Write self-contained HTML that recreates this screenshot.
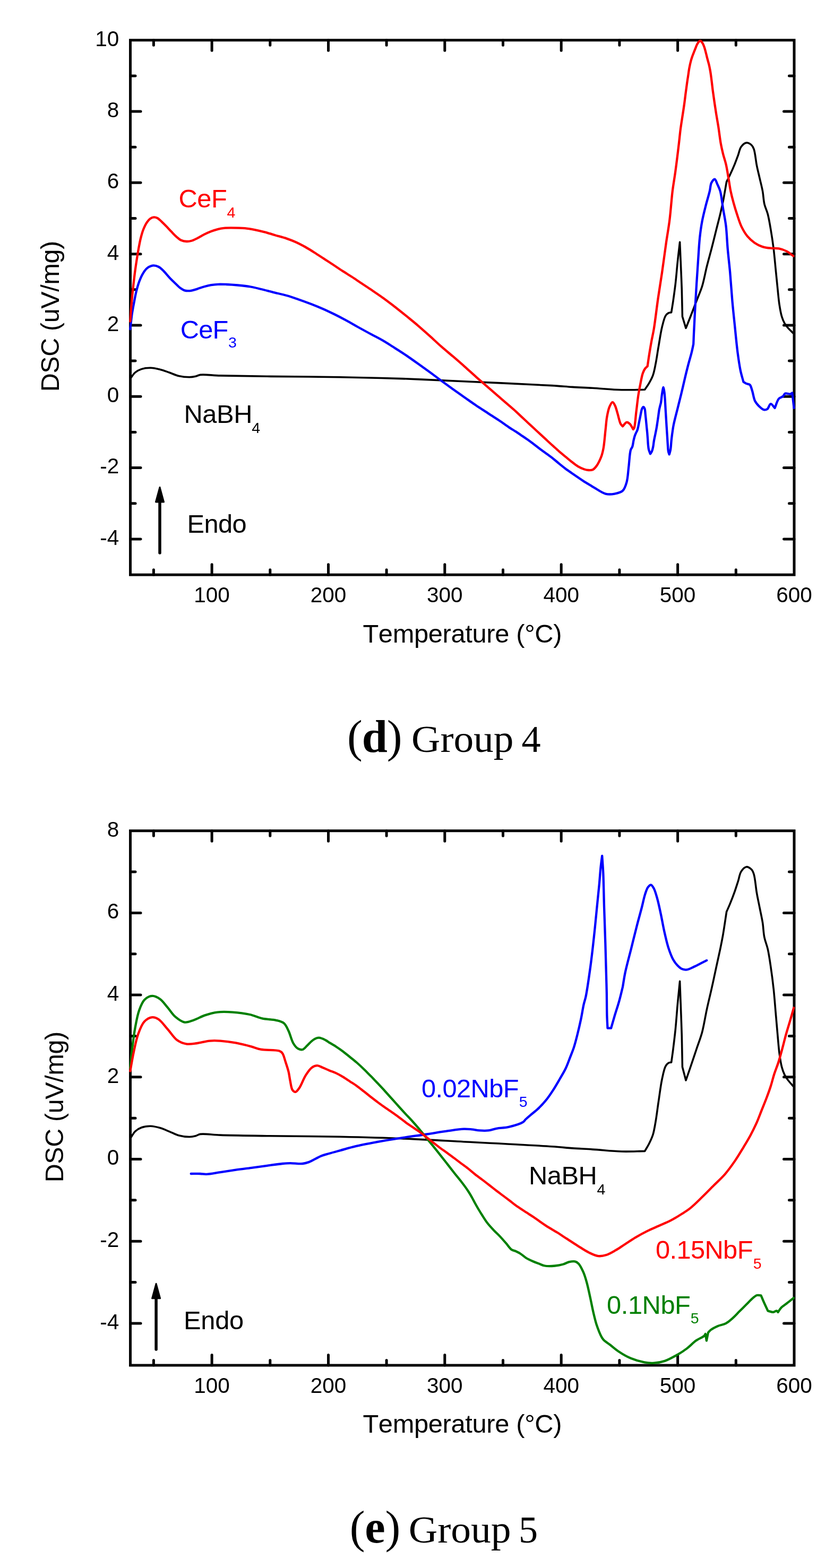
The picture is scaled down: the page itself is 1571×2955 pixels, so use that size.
<!DOCTYPE html>
<html><head><meta charset="utf-8"><title>DSC curves</title>
<style>
html,body{margin:0;padding:0;background:#fff;}
body{width:1571px;height:2955px;overflow:hidden;}
svg{display:block;}
text{font-kerning:none;font-feature-settings:"kern" 0,"liga" 0;font-variant-ligatures:none;}
.tk{font-family:'Liberation Sans', Arial, sans-serif;font-size:40.5px;fill:#000;}
.lb{font-family:'Liberation Sans', Arial, sans-serif;}
.cap{font-family:'Liberation Serif', 'Times New Roman', serif;font-size:70px;fill:#000;}
</style></head>
<body>
<svg width="1571" height="2955" viewBox="0 0 1571 2955">
<rect width="1571" height="2955" fill="#fff"/>
<path d="M289.4 1083.2 V1073.7 M289.4 75.7 V85.2 M399.1 1083.2 V1063.7 M399.1 75.7 V95.2 M508.8 1083.2 V1073.7 M508.8 75.7 V85.2 M618.5 1083.2 V1063.7 M618.5 75.7 V95.2 M728.1 1083.2 V1073.7 M728.1 75.7 V85.2 M837.8 1083.2 V1063.7 M837.8 75.7 V95.2 M947.5 1083.2 V1073.7 M947.5 75.7 V85.2 M1057.2 1083.2 V1063.7 M1057.2 75.7 V95.2 M1166.9 1083.2 V1073.7 M1166.9 75.7 V85.2 M1276.6 1083.2 V1063.7 M1276.6 75.7 V95.2 M1386.3 1083.2 V1073.7 M1386.3 75.7 V85.2 M245.5 1015.9 H265.0 M1496.0 1015.9 H1476.5 M245.5 948.8 H255.0 M1496.0 948.8 H1486.5 M245.5 881.6 H265.0 M1496.0 881.6 H1476.5 M245.5 814.5 H255.0 M1496.0 814.5 H1486.5 M245.5 747.3 H265.0 M1496.0 747.3 H1476.5 M245.5 680.1 H255.0 M1496.0 680.1 H1486.5 M245.5 613.0 H265.0 M1496.0 613.0 H1476.5 M245.5 545.8 H255.0 M1496.0 545.8 H1486.5 M245.5 478.7 H265.0 M1496.0 478.7 H1476.5 M245.5 411.5 H255.0 M1496.0 411.5 H1486.5 M245.5 344.3 H265.0 M1496.0 344.3 H1476.5 M245.5 277.2 H255.0 M1496.0 277.2 H1486.5 M245.5 210.0 H265.0 M1496.0 210.0 H1476.5 M245.5 142.9 H255.0 M1496.0 142.9 H1486.5" stroke="#000" stroke-width="5" stroke-linecap="round" fill="none"/>
<rect x="245.5" y="75.7" width="1250.5" height="1007.5" fill="none" stroke="#000" stroke-width="5"/>
<text x="399.1" y="1135.2" text-anchor="middle" class="tk">100</text>
<text x="618.5" y="1135.2" text-anchor="middle" class="tk">200</text>
<text x="837.8" y="1135.2" text-anchor="middle" class="tk">300</text>
<text x="1057.2" y="1135.2" text-anchor="middle" class="tk">400</text>
<text x="1276.6" y="1135.2" text-anchor="middle" class="tk">500</text>
<text x="1496.0" y="1135.2" text-anchor="middle" class="tk">600</text>
<text x="224.2" y="1026.7" text-anchor="end" class="tk">-4</text>
<text x="224.2" y="892.4" text-anchor="end" class="tk">-2</text>
<text x="224.2" y="758.1" text-anchor="end" class="tk">0</text>
<text x="224.2" y="623.8" text-anchor="end" class="tk">2</text>
<text x="224.2" y="489.5" text-anchor="end" class="tk">4</text>
<text x="224.2" y="355.1" text-anchor="end" class="tk">6</text>
<text x="224.2" y="220.8" text-anchor="end" class="tk">8</text>
<text x="224.2" y="86.5" text-anchor="end" class="tk">10</text>
<path d="M245.3 713.7 C248.4 709.8 251.0 705.1 254.6 702.0 C258.0 699.1 261.9 697.1 266.3 695.6 C271.4 693.9 278.0 693.2 283.8 693.3 C289.6 693.4 295.5 694.8 301.3 696.2 C307.2 697.7 313.0 700.0 318.8 702.0 C324.7 704.1 330.2 707.0 336.4 708.5 C342.9 710.0 350.9 710.8 356.8 710.8 C361.2 710.8 364.9 710.1 368.5 709.3 C371.7 708.6 373.2 707.0 377.2 706.4 C385.3 705.2 399.9 707.5 415.2 707.9 C438.4 708.5 470.3 708.9 502.8 709.3 C543.4 709.8 596.1 709.9 640.0 710.7 C680.5 711.4 717.9 712.3 756.8 713.6 C795.7 715.0 831.2 716.9 873.6 718.8 C924.2 721.1 1004.1 724.4 1040.0 726.6 C1057.2 727.6 1065.3 728.6 1078.0 729.4 C1090.6 730.2 1102.1 730.5 1115.9 731.3 C1132.6 732.2 1153.7 734.3 1171.0 734.7 C1186.4 735.1 1200.1 734.4 1214.6 734.2 C1217.1 730.4 1219.8 727.0 1222.2 722.8 C1224.9 718.2 1227.7 713.3 1229.8 707.6 C1232.2 701.1 1233.4 693.8 1235.0 685.7 C1237.0 675.9 1238.5 664.1 1240.5 652.8 C1242.6 640.9 1244.5 626.6 1247.1 616.2 C1249.1 608.2 1250.9 599.9 1253.6 595.4 C1255.2 592.7 1257.1 591.0 1259.1 589.9 C1260.8 589.0 1262.8 589.2 1264.6 588.8 C1265.7 581.9 1266.8 575.7 1267.9 568.0 C1269.3 558.3 1270.9 546.9 1272.3 535.2 C1273.9 521.7 1275.1 505.2 1276.6 491.4 C1277.9 479.0 1279.3 468.0 1280.6 456.3 C1281.1 468.0 1281.6 478.4 1282.1 491.4 C1282.8 507.6 1283.7 528.2 1284.3 546.1 C1284.8 563.2 1285.0 579.7 1285.4 596.5 L1292.0 618.4 C1294.9 611.1 1297.7 604.3 1300.7 596.5 C1304.2 587.6 1308.0 577.5 1311.7 568.0 C1315.3 558.5 1319.4 549.7 1322.6 539.5 C1326.1 528.0 1328.4 514.3 1331.4 502.3 C1334.2 491.0 1337.2 480.6 1340.1 469.5 C1343.1 458.0 1346.1 445.7 1348.9 434.4 C1351.5 423.8 1354.3 413.4 1356.6 403.8 C1358.6 395.3 1360.2 388.6 1362.0 379.7 C1364.2 368.7 1366.4 354.9 1368.6 342.5 C1370.8 338.1 1372.9 334.2 1375.2 329.3 C1378.0 323.4 1381.3 316.0 1383.9 309.6 C1386.3 303.6 1388.4 297.7 1390.5 292.1 C1392.4 286.8 1393.2 280.7 1396.0 276.8 C1398.5 273.3 1402.4 269.5 1405.8 269.1 C1409.0 268.7 1413.3 271.3 1415.7 273.5 C1417.9 275.5 1418.8 277.6 1420.1 281.2 C1422.5 287.9 1423.6 302.2 1425.5 311.8 C1427.2 320.3 1429.2 327.9 1431.0 335.9 C1432.8 343.9 1435.0 351.9 1436.5 360.0 C1438.0 368.0 1438.1 376.5 1439.8 384.1 C1441.4 391.1 1444.4 396.6 1446.3 403.8 C1448.5 412.4 1450.1 422.1 1451.8 432.3 C1453.8 443.9 1455.7 456.6 1457.3 469.5 C1459.0 483.5 1460.3 499.8 1461.7 513.3 C1462.9 525.0 1463.9 535.6 1465.0 546.1 C1466.0 555.9 1466.8 565.8 1468.2 574.6 C1469.4 582.4 1470.7 590.2 1472.6 596.5 C1474.1 601.5 1475.9 605.8 1478.1 609.6 C1480.0 613.0 1482.2 615.5 1484.7 618.4 C1487.5 621.7 1491.2 624.9 1494.5 628.2" stroke="#000" stroke-width="3.6" fill="none" stroke-linejoin="round" stroke-linecap="round"/>
<path d="M245.3 620.3 C246.4 610.9 247.3 600.8 248.6 592.0 C249.7 584.2 251.1 577.3 252.5 570.0 C253.9 562.6 255.3 554.6 257.1 547.7 C258.7 541.6 260.3 536.0 262.3 530.6 C264.2 525.5 266.3 520.4 268.9 516.1 C271.2 512.2 273.5 508.2 276.8 505.6 C280.1 503.0 284.7 500.7 288.6 500.4 C292.1 500.1 295.9 501.3 299.1 503.0 C302.5 504.8 305.2 507.9 308.3 510.9 C311.8 514.3 315.2 518.9 318.8 522.7 C322.2 526.4 325.8 529.8 329.3 533.2 C332.8 536.6 336.5 540.6 339.9 543.1 C342.6 545.0 345.2 546.6 347.7 547.4 C349.8 548.1 351.8 548.2 354.0 548.2 C356.2 548.2 358.4 548.1 360.9 547.6 C364.1 547.0 367.7 545.7 371.4 544.6 C375.5 543.3 380.1 541.4 384.5 540.2 C388.9 539.0 393.3 537.9 397.7 537.2 C402.1 536.5 406.2 536.0 410.8 535.8 C415.7 535.6 420.7 535.8 426.3 536.0 C433.0 536.3 440.7 536.8 448.2 537.5 C456.1 538.3 464.7 539.2 472.3 540.5 C479.2 541.7 485.3 543.4 492.0 545.0 C499.1 546.7 506.3 548.7 513.9 550.6 C522.2 552.7 531.8 554.6 540.1 557.0 C547.8 559.2 554.5 561.6 562.0 564.2 C569.9 566.9 578.3 570.0 586.1 573.0 C593.6 575.9 600.7 578.8 608.0 582.0 C615.3 585.2 622.6 588.7 629.9 592.3 C637.2 595.9 644.5 599.7 651.8 603.6 C659.1 607.6 666.1 611.7 673.7 616.0 C682.0 620.6 691.6 625.9 700.0 630.4 C707.6 634.5 714.7 638.0 721.9 642.2 C729.3 646.5 736.5 651.3 743.8 655.9 C751.1 660.6 758.4 665.2 765.7 670.1 C773.0 675.1 780.3 680.3 787.6 685.5 C794.9 690.7 802.2 695.9 809.5 701.2 C816.8 706.6 824.1 712.2 831.4 717.6 C838.7 722.9 846.0 728.2 853.3 733.4 C860.6 738.6 867.9 743.8 875.2 749.0 C882.5 754.1 889.8 759.3 897.1 764.3 C904.4 769.2 911.7 773.8 919.0 778.6 C926.3 783.3 933.9 788.1 940.9 792.8 C947.5 797.3 954.4 802.4 960.0 806.1 C964.3 809.0 967.8 810.9 971.7 813.4 C975.6 816.0 979.5 818.7 983.4 821.4 C987.3 824.0 991.2 826.6 995.0 829.3 C998.9 832.1 1002.8 835.1 1006.7 838.0 C1010.6 841.0 1014.5 844.1 1018.4 847.0 C1022.3 849.9 1026.2 852.7 1030.1 855.6 C1034.0 858.5 1038.0 861.2 1041.8 864.2 C1045.7 867.3 1049.5 870.7 1053.4 873.9 C1057.3 877.1 1061.2 880.3 1065.1 883.2 C1069.0 886.1 1072.9 888.7 1076.8 891.4 C1080.7 894.1 1084.6 896.9 1088.5 899.6 C1092.4 902.3 1096.2 904.9 1100.1 907.4 C1104.0 909.8 1108.2 912.3 1111.8 914.4 C1114.8 916.2 1116.6 917.5 1120.0 919.4 C1125.3 922.4 1133.8 928.9 1140.6 930.6 C1146.4 932.1 1152.3 931.6 1157.7 930.6 C1163.0 929.6 1169.1 928.4 1172.9 924.9 C1176.8 921.3 1178.6 915.1 1180.4 908.8 C1182.7 900.8 1183.0 890.1 1184.2 880.3 C1185.5 869.9 1186.0 854.5 1188.0 848.0 C1188.9 845.0 1190.3 844.3 1191.2 841.8 C1192.3 838.6 1192.7 833.6 1193.5 830.0 C1194.2 826.9 1194.9 823.9 1195.8 821.3 C1196.5 819.1 1197.4 817.3 1198.2 815.5 C1198.9 813.8 1199.9 812.6 1200.5 810.8 C1201.3 808.7 1201.7 806.1 1202.3 803.8 C1202.9 800.9 1203.4 797.9 1204.0 795.0 C1204.6 792.1 1205.2 789.2 1205.8 786.3 C1206.4 783.4 1206.9 780.3 1207.5 777.5 C1208.1 775.0 1208.4 772.4 1209.3 770.5 C1210.0 769.1 1211.0 767.0 1211.9 767.0 C1212.8 767.0 1213.9 768.9 1214.5 770.5 C1215.4 772.9 1215.3 777.0 1215.7 780.4 C1216.1 784.1 1216.5 788.2 1216.9 792.1 C1217.3 796.0 1217.6 799.9 1218.0 803.8 C1218.4 807.7 1218.8 811.6 1219.2 815.5 C1219.5 819.4 1219.8 823.3 1220.1 827.2 C1220.4 831.1 1220.5 835.2 1220.9 838.8 C1221.2 841.9 1221.4 844.8 1222.1 847.6 C1222.8 850.3 1224.0 852.8 1225.0 855.4 C1226.0 853.8 1227.2 852.4 1228.0 850.5 C1229.0 848.1 1229.7 844.9 1230.3 841.8 C1231.0 838.2 1231.3 833.9 1232.0 830.0 C1232.7 826.1 1233.6 822.3 1234.4 818.4 C1235.2 814.5 1236.0 810.6 1236.7 806.7 C1237.4 802.8 1237.9 798.9 1238.5 795.0 C1239.1 791.1 1239.6 787.3 1240.2 783.4 C1240.7 779.6 1241.2 775.3 1241.8 772.0 C1242.3 769.4 1242.9 767.3 1243.4 765.0 C1243.9 762.9 1244.5 761.3 1245.0 758.8 C1245.7 755.0 1246.2 748.5 1246.8 744.2 C1247.3 740.8 1247.8 737.6 1248.3 735.0 C1248.7 733.1 1249.1 730.0 1249.5 730.0 C1249.9 730.0 1250.4 733.1 1250.8 735.0 C1251.3 737.6 1251.7 740.8 1252.0 744.2 C1252.4 748.5 1252.7 753.8 1253.0 758.8 C1253.3 764.1 1253.6 769.7 1253.9 775.0 C1254.2 780.1 1254.5 785.2 1254.8 790.0 C1255.1 794.5 1255.3 798.5 1255.6 803.0 C1255.9 807.9 1256.3 813.1 1256.6 818.4 C1257.0 824.0 1257.3 830.3 1257.7 835.9 C1258.1 841.0 1258.2 846.7 1258.9 850.5 C1259.4 852.9 1260.1 854.4 1260.7 856.4 C1261.5 853.5 1262.4 851.1 1263.0 847.6 C1263.9 842.8 1264.1 835.6 1264.7 830.0 C1265.3 824.9 1265.8 820.3 1266.5 815.5 C1267.2 810.6 1267.6 806.7 1268.8 800.9 C1270.5 792.3 1274.1 779.0 1276.6 768.9 C1278.9 759.7 1281.0 751.5 1283.2 742.6 C1285.4 733.3 1287.6 723.5 1289.8 714.2 C1291.9 705.3 1294.1 696.5 1296.3 687.9 C1298.4 679.7 1301.2 670.9 1302.9 663.8 C1304.3 658.1 1305.1 653.6 1306.2 648.5 C1306.6 639.9 1306.8 632.5 1307.3 622.8 C1307.9 610.1 1308.7 593.6 1309.5 579.0 C1310.3 564.4 1311.2 549.8 1312.1 535.2 C1313.0 520.6 1314.0 506.0 1315.0 491.4 C1316.0 476.8 1316.8 460.9 1318.2 447.6 C1319.4 436.4 1320.7 426.9 1322.6 416.9 C1324.4 407.2 1326.8 398.0 1329.2 388.5 C1331.6 379.0 1335.0 368.1 1336.9 360.0 C1338.3 354.1 1338.1 348.5 1340.1 344.6 C1341.6 341.6 1344.5 337.4 1346.3 337.6 C1348.2 337.8 1349.5 343.4 1351.1 346.8 C1353.0 350.8 1355.0 354.5 1356.6 360.0 C1359.0 368.4 1360.2 381.9 1362.0 392.8 C1363.8 403.8 1366.1 413.9 1367.5 425.7 C1369.1 439.2 1369.5 454.9 1370.8 469.5 C1372.1 484.1 1373.8 497.9 1375.2 513.3 C1376.7 530.5 1378.0 550.8 1379.5 568.0 C1380.9 583.4 1382.3 596.6 1383.9 611.8 C1385.6 628.4 1387.4 648.2 1389.4 663.8 C1391.1 676.6 1392.8 688.7 1394.9 698.8 C1396.6 706.7 1398.6 712.7 1400.4 719.6 C1402.2 720.7 1403.9 722.0 1405.8 722.9 C1407.8 723.8 1410.7 723.5 1412.4 725.1 C1414.7 727.2 1415.4 731.8 1416.8 736.0 C1418.7 741.6 1419.6 750.6 1422.2 755.8 C1424.3 759.9 1427.0 762.8 1429.9 765.6 C1432.6 768.2 1435.8 771.5 1438.7 772.2 C1440.9 772.7 1443.3 772.4 1445.2 771.1 C1447.8 769.4 1449.4 761.4 1451.8 761.2 C1454.1 761.0 1456.9 766.3 1459.5 768.9 C1462.0 763.1 1463.8 755.0 1467.1 751.4 C1469.3 748.9 1472.7 748.8 1474.8 747.0 C1476.7 745.4 1477.1 742.4 1479.2 741.5 C1481.6 740.5 1486.7 743.2 1489.0 742.6 C1490.5 742.2 1491.2 741.1 1492.3 740.4 L1495.6 768.9" stroke="#0000ff" stroke-width="4.3" fill="none" stroke-linejoin="round" stroke-linecap="round"/>
<path d="M245.3 605.7 C246.2 593.8 246.7 582.8 247.9 570.0 C249.2 555.0 251.4 535.5 253.1 521.4 C254.4 510.5 255.7 501.6 257.1 492.5 C258.4 484.2 259.6 476.3 261.0 468.8 C262.3 461.9 263.4 455.4 265.0 449.1 C266.5 443.2 268.1 437.2 270.2 432.0 C272.1 427.3 274.3 422.5 276.8 418.9 C278.8 416.0 281.0 413.3 283.4 411.7 C285.4 410.4 287.7 409.5 289.9 409.4 C292.1 409.3 294.3 409.9 296.5 411.0 C299.2 412.3 301.7 415.2 304.4 417.6 C307.4 420.4 310.6 423.7 313.6 426.8 C316.7 430.0 319.7 433.4 322.8 436.6 C325.8 439.7 328.8 443.0 332.0 445.8 C335.0 448.4 337.8 451.3 341.2 452.8 C344.4 454.3 348.3 454.9 351.7 455.0 C354.9 455.1 357.8 454.6 360.9 453.7 C364.4 452.7 367.7 450.9 371.4 449.1 C375.6 447.0 380.1 444.1 384.5 441.9 C388.8 439.7 393.3 437.7 397.7 436.0 C402.0 434.3 406.6 432.9 410.8 431.8 C414.6 430.8 418.1 430.2 422.0 429.8 C426.2 429.4 429.9 429.4 435.0 429.4 C442.2 429.4 453.4 429.5 461.3 430.2 C467.7 430.8 472.8 431.7 478.8 432.8 C485.2 434.0 492.0 435.6 498.5 437.3 C505.1 439.0 511.5 441.2 518.2 443.2 C525.3 445.3 533.2 447.3 540.1 449.6 C546.3 451.7 551.9 453.9 557.7 456.5 C563.6 459.2 569.4 462.3 575.2 465.5 C581.1 468.8 586.9 472.5 592.7 476.2 C598.6 479.9 604.4 483.8 610.2 487.6 C616.0 491.4 621.9 495.2 627.7 499.0 C633.5 502.8 639.3 506.8 645.2 510.6 C651.0 514.4 657.0 518.0 662.8 521.8 C668.7 525.6 674.3 529.5 680.3 533.5 C686.7 537.7 693.3 542.0 700.0 546.6 C707.1 551.4 714.7 556.5 721.9 561.7 C729.3 567.0 736.5 572.6 743.8 578.2 C751.1 583.9 758.4 589.8 765.7 595.7 C773.0 601.7 780.4 607.6 787.6 613.8 C795.0 620.1 802.2 626.7 809.5 633.2 C816.8 639.8 824.0 646.7 831.4 653.2 C838.6 659.6 846.0 665.5 853.3 671.7 C860.6 678.0 867.9 684.3 875.2 690.8 C882.5 697.3 889.8 704.1 897.1 710.6 C904.4 717.0 911.7 723.3 919.0 729.6 C926.3 735.9 933.9 742.5 940.9 748.6 C947.5 754.3 954.4 760.3 960.0 765.2 C964.4 769.0 967.8 771.9 971.7 775.4 C975.6 779.0 979.5 782.8 983.4 786.4 C987.3 790.0 991.1 793.6 995.0 797.2 C998.9 800.8 1002.8 804.4 1006.7 808.0 C1010.6 811.6 1014.5 815.3 1018.4 818.9 C1022.3 822.5 1026.2 826.1 1030.1 829.7 C1034.0 833.3 1037.9 836.9 1041.8 840.4 C1045.7 843.9 1049.5 847.4 1053.4 850.8 C1057.3 854.1 1061.2 857.4 1065.1 860.6 C1069.0 863.8 1072.9 867.1 1076.8 870.2 C1080.7 873.2 1084.5 876.4 1088.5 878.8 C1092.3 881.0 1096.5 883.0 1100.1 884.2 C1103.0 885.2 1105.6 885.8 1108.3 886.0 C1111.0 886.2 1114.0 886.3 1116.5 885.2 C1119.2 884.0 1121.2 881.5 1123.5 878.4 C1126.8 873.8 1130.7 865.5 1133.0 859.4 C1134.9 854.2 1135.7 850.3 1136.8 844.2 C1138.4 835.1 1139.4 820.6 1140.6 810.1 C1141.6 801.2 1142.0 793.1 1143.4 785.4 C1144.6 778.6 1146.0 771.3 1148.2 766.4 C1149.8 762.8 1152.1 757.9 1153.9 757.9 C1155.5 757.9 1157.2 761.7 1158.6 764.5 C1160.5 768.4 1161.8 774.3 1163.4 779.7 C1165.2 785.7 1166.8 794.6 1169.0 798.7 C1170.2 801.0 1171.6 801.8 1172.9 803.4 C1175.4 800.9 1177.9 796.2 1180.4 795.8 C1182.3 795.5 1184.3 797.1 1186.1 798.7 C1188.6 800.9 1190.6 805.6 1192.8 809.1 C1193.4 808.2 1194.1 807.8 1194.7 806.3 C1196.4 801.7 1197.2 786.0 1198.5 775.9 C1199.8 765.8 1200.9 754.7 1202.3 745.5 C1203.5 737.9 1204.7 731.7 1206.1 724.7 C1207.5 717.6 1208.9 708.7 1210.9 703.2 C1212.2 699.5 1213.6 696.7 1215.3 694.4 C1216.6 692.6 1218.2 691.5 1219.7 690.1 C1220.4 685.0 1221.0 680.8 1221.9 674.7 C1223.3 665.8 1225.6 651.7 1227.4 641.9 C1228.9 633.9 1230.2 629.0 1231.7 620.0 C1234.1 605.6 1236.8 581.9 1239.4 563.6 C1241.9 546.3 1244.6 530.4 1247.1 513.3 C1249.7 495.4 1252.2 475.7 1254.7 458.5 C1256.9 443.1 1259.4 430.1 1261.3 414.7 C1263.5 397.5 1264.8 376.5 1266.8 360.0 C1268.5 346.4 1270.5 336.3 1272.3 322.8 C1274.5 306.7 1277.2 284.6 1278.9 270.0 C1280.1 259.6 1280.8 251.8 1281.9 243.2 C1283.0 235.2 1284.2 227.7 1285.4 219.9 C1286.6 212.1 1287.8 204.4 1288.9 196.6 C1290.0 188.8 1291.0 179.8 1291.9 173.3 C1292.5 168.7 1293.0 165.4 1293.5 161.5 C1294.0 157.6 1294.6 153.4 1295.1 150.0 C1295.5 147.4 1295.8 145.8 1296.2 143.0 C1296.8 139.0 1297.5 133.3 1298.4 128.4 C1299.3 123.5 1300.6 117.8 1301.7 113.8 C1302.5 110.9 1303.2 108.9 1304.0 106.5 C1304.9 104.1 1305.9 101.6 1306.8 99.2 C1307.8 96.8 1308.7 94.3 1309.7 91.9 C1310.7 89.5 1311.5 86.8 1312.6 84.6 C1313.7 82.5 1315.0 80.1 1316.3 78.8 C1317.2 77.9 1318.2 76.9 1319.2 77.0 C1320.5 77.1 1322.1 79.3 1323.2 81.0 C1324.6 83.0 1325.5 85.5 1326.5 88.2 C1327.7 91.4 1328.6 95.5 1329.6 99.2 C1330.6 102.8 1331.4 106.5 1332.3 110.1 C1333.3 113.8 1334.4 117.4 1335.3 121.1 C1336.2 124.7 1336.9 128.3 1337.6 132.0 C1338.3 135.6 1338.8 139.3 1339.3 143.0 C1339.8 146.6 1340.2 149.9 1340.7 153.9 C1341.3 158.7 1341.9 164.3 1342.6 170.0 C1343.5 176.6 1344.6 184.2 1345.6 191.4 C1346.7 198.7 1347.7 205.7 1348.9 213.3 C1350.2 221.6 1351.9 230.4 1353.3 239.5 C1354.8 249.3 1356.1 261.1 1357.7 270.2 C1359.0 277.5 1360.4 283.4 1362.0 289.9 C1363.6 296.5 1365.8 302.3 1367.5 309.6 C1369.6 318.7 1371.4 331.2 1373.0 340.3 C1374.3 347.6 1374.9 353.3 1376.3 360.0 C1377.8 367.1 1379.7 374.6 1381.7 381.9 C1383.7 389.2 1385.8 396.4 1388.3 403.8 C1390.9 411.7 1393.6 420.7 1397.1 427.9 C1400.3 434.4 1403.8 440.4 1408.0 445.4 C1411.9 450.1 1416.4 454.1 1421.2 457.4 C1425.9 460.6 1431.3 463.4 1436.5 465.1 C1441.5 466.7 1446.7 467.2 1451.8 467.7 C1456.9 468.2 1462.1 467.4 1467.1 468.4 C1472.3 469.4 1477.8 471.4 1482.5 473.9 C1486.9 476.2 1490.5 479.7 1494.5 482.6" stroke="#ff0000" stroke-width="4.3" fill="none" stroke-linejoin="round" stroke-linecap="round"/>
<text x="336.52" y="390.90" fill="#ff0000" letter-spacing="-0.479"><tspan font-family="'Liberation Sans', Arial, sans-serif" font-size="48.80">CeF</tspan></text><text x="427.55" y="409.70" fill="#ff0000" letter-spacing="0.000"><tspan font-family="'Liberation Sans', Arial, sans-serif" font-size="28.50">4</tspan></text>
<text x="339.72" y="637.80" fill="#0000ff" letter-spacing="-0.829"><tspan font-family="'Liberation Sans', Arial, sans-serif" font-size="48.80">CeF</tspan></text><text x="430.11" y="655.00" fill="#0000ff" letter-spacing="0.000"><tspan font-family="'Liberation Sans', Arial, sans-serif" font-size="28.50">3</tspan></text>
<text x="346.60" y="797.40" fill="#000" letter-spacing="-0.464"><tspan font-family="'Liberation Sans', Arial, sans-serif" font-size="48.80">NaBH</tspan></text><text x="474.35" y="815.50" fill="#000" letter-spacing="0.000"><tspan font-family="'Liberation Sans', Arial, sans-serif" font-size="28.50">4</tspan></text>
<text x="352.40" y="1004.10" fill="#000" letter-spacing="-0.539"><tspan font-family="'Liberation Sans', Arial, sans-serif" font-size="48.80">Endo</tspan></text>
<path d="M301.0 1042.1 V944.9" stroke="#000" stroke-width="5.5" stroke-linecap="round"/><path d="M301.0 918.4 L293.5 945.9 L308.5 945.9 Z" fill="#000" stroke="#000" stroke-width="3" stroke-linejoin="round"/>
<text transform="translate(110.90 734.40) rotate(-90)" x="-3.98" y="0" letter-spacing="-0.376" font-family="'Liberation Sans', Arial, sans-serif" font-size="48.50">DSC (uV/mg)</text>
<text x="683.40" y="1211.00" fill="#000" letter-spacing="-0.337"><tspan font-family="'Liberation Sans', Arial, sans-serif" font-size="48.80">Temperature (°C)</tspan></text>
<text x="654.10" y="1416.60" fill="#000" letter-spacing="-1.107"><tspan font-family="'Liberation Serif', 'Times New Roman', serif" font-size="86.50">(</tspan><tspan font-family="'Liberation Serif', 'Times New Roman', serif" font-size="86.50" font-weight="bold">d</tspan><tspan font-family="'Liberation Serif', 'Times New Roman', serif" font-size="86.50">)</tspan></text><text transform="translate(775.01 1416.60) scale(1.0431 1)" x="0" y="0" fill="#000"><tspan font-family="'Liberation Serif', 'Times New Roman', serif" font-size="72.20">Group</tspan></text><text x="982.49" y="1416.60" fill="#000" letter-spacing="0.000"><tspan font-family="'Liberation Serif', 'Times New Roman', serif" font-size="72.20">4</tspan></text>
<path d="M289.4 2573.0 V2563.5 M289.4 1565.7 V1575.2 M399.1 2573.0 V2553.5 M399.1 1565.7 V1585.2 M508.8 2573.0 V2563.5 M508.8 1565.7 V1575.2 M618.5 2573.0 V2553.5 M618.5 1565.7 V1585.2 M728.1 2573.0 V2563.5 M728.1 1565.7 V1575.2 M837.8 2573.0 V2553.5 M837.8 1565.7 V1585.2 M947.5 2573.0 V2563.5 M947.5 1565.7 V1575.2 M1057.2 2573.0 V2553.5 M1057.2 1565.7 V1585.2 M1166.9 2573.0 V2563.5 M1166.9 1565.7 V1575.2 M1276.6 2573.0 V2553.5 M1276.6 1565.7 V1585.2 M1386.3 2573.0 V2563.5 M1386.3 1565.7 V1575.2 M245.5 2493.9 H265.0 M1496.0 2493.9 H1476.5 M245.5 2416.6 H255.0 M1496.0 2416.6 H1486.5 M245.5 2339.2 H265.0 M1496.0 2339.2 H1476.5 M245.5 2261.8 H255.0 M1496.0 2261.8 H1486.5 M245.5 2184.5 H265.0 M1496.0 2184.5 H1476.5 M245.5 2107.2 H255.0 M1496.0 2107.2 H1486.5 M245.5 2029.8 H265.0 M1496.0 2029.8 H1476.5 M245.5 1952.5 H255.0 M1496.0 1952.5 H1486.5 M245.5 1875.1 H265.0 M1496.0 1875.1 H1476.5 M245.5 1797.8 H255.0 M1496.0 1797.8 H1486.5 M245.5 1720.4 H265.0 M1496.0 1720.4 H1476.5 M245.5 1643.1 H255.0 M1496.0 1643.1 H1486.5" stroke="#000" stroke-width="5" stroke-linecap="round" fill="none"/>
<rect x="245.5" y="1565.7" width="1250.5" height="1007.3" fill="none" stroke="#000" stroke-width="5"/>
<text x="399.1" y="2625.0" text-anchor="middle" class="tk">100</text>
<text x="618.5" y="2625.0" text-anchor="middle" class="tk">200</text>
<text x="837.8" y="2625.0" text-anchor="middle" class="tk">300</text>
<text x="1057.2" y="2625.0" text-anchor="middle" class="tk">400</text>
<text x="1276.6" y="2625.0" text-anchor="middle" class="tk">500</text>
<text x="1496.0" y="2625.0" text-anchor="middle" class="tk">600</text>
<text x="224.2" y="2504.7" text-anchor="end" class="tk">-4</text>
<text x="224.2" y="2350.0" text-anchor="end" class="tk">-2</text>
<text x="224.2" y="2195.3" text-anchor="end" class="tk">0</text>
<text x="224.2" y="2040.6" text-anchor="end" class="tk">2</text>
<text x="224.2" y="1885.9" text-anchor="end" class="tk">4</text>
<text x="224.2" y="1731.2" text-anchor="end" class="tk">6</text>
<text x="224.2" y="1576.5" text-anchor="end" class="tk">8</text>
<path d="M245.3 2145.8 C248.4 2141.3 250.9 2135.9 254.6 2132.3 C258.0 2129.1 261.8 2126.6 266.3 2125.0 C271.4 2123.1 278.0 2122.2 283.8 2122.3 C289.6 2122.4 295.5 2124.0 301.3 2125.6 C307.2 2127.3 313.0 2130.0 318.8 2132.3 C324.7 2134.7 330.2 2138.1 336.4 2139.8 C342.8 2141.6 350.9 2142.5 356.8 2142.5 C361.2 2142.4 364.9 2141.7 368.5 2140.7 C371.7 2139.9 373.2 2138.0 377.2 2137.4 C385.3 2136.1 399.9 2138.6 415.2 2139.1 C438.4 2139.9 470.3 2140.2 502.8 2140.7 C543.4 2141.3 596.1 2141.5 640.0 2142.3 C680.5 2143.2 717.9 2144.1 756.8 2145.7 C795.7 2147.2 831.2 2149.4 873.6 2151.7 C924.2 2154.3 1004.1 2158.2 1040.0 2160.7 C1057.2 2161.8 1065.3 2163.0 1078.0 2163.9 C1090.6 2164.8 1102.1 2165.2 1115.9 2166.1 C1132.6 2167.1 1153.7 2169.5 1171.0 2170.0 C1186.4 2170.4 1200.1 2169.6 1214.6 2169.4 C1217.1 2165.0 1219.8 2161.0 1222.2 2156.3 C1224.9 2150.9 1227.7 2145.3 1229.8 2138.8 C1232.2 2131.2 1233.4 2122.8 1235.0 2113.6 C1237.0 2102.2 1238.5 2088.6 1240.5 2075.7 C1242.6 2062.0 1244.5 2045.5 1247.1 2033.5 C1249.1 2024.3 1250.8 2014.8 1253.6 2009.6 C1255.2 2006.5 1257.0 2004.5 1259.1 2003.2 C1260.8 2002.2 1262.8 2002.4 1264.6 2002.0 C1265.7 1994.0 1266.8 1986.9 1267.9 1978.0 C1269.3 1966.8 1270.9 1953.7 1272.3 1940.2 C1273.9 1924.6 1275.1 1905.7 1276.6 1889.8 C1277.9 1875.5 1279.3 1862.8 1280.6 1849.3 C1281.1 1862.8 1281.6 1874.8 1282.1 1889.8 C1282.8 1908.5 1283.7 1932.2 1284.3 1952.8 C1284.8 1972.5 1285.0 1991.5 1285.4 2010.8 L1292.0 2036.0 C1294.9 2027.6 1297.7 2019.8 1300.7 2010.8 C1304.2 2000.6 1308.0 1988.9 1311.7 1978.0 C1315.3 1967.1 1319.4 1956.9 1322.6 1945.2 C1326.1 1931.9 1328.4 1916.1 1331.4 1902.3 C1334.2 1889.3 1337.2 1877.4 1340.1 1864.6 C1343.1 1851.3 1346.1 1837.1 1348.9 1824.1 C1351.5 1812.0 1354.3 1799.9 1356.6 1788.9 C1358.6 1779.1 1360.2 1771.4 1362.0 1761.1 C1364.2 1748.4 1366.4 1732.6 1368.6 1718.3 C1370.8 1713.2 1372.9 1708.7 1375.2 1703.1 C1378.0 1696.3 1381.3 1687.8 1383.9 1680.4 C1386.3 1673.5 1388.4 1666.7 1390.5 1660.2 C1392.4 1654.2 1393.1 1647.2 1396.0 1642.6 C1398.5 1638.7 1402.4 1634.2 1405.8 1633.7 C1409.0 1633.3 1413.3 1636.4 1415.7 1638.8 C1418.0 1641.1 1418.8 1643.6 1420.1 1647.7 C1422.5 1655.4 1423.6 1671.9 1425.5 1682.9 C1427.2 1692.7 1429.2 1701.4 1431.0 1710.7 C1432.8 1719.9 1435.0 1729.2 1436.5 1738.4 C1438.0 1747.7 1438.0 1757.5 1439.8 1766.2 C1441.4 1774.2 1444.4 1780.6 1446.3 1788.9 C1448.5 1798.8 1450.1 1810.0 1451.8 1821.7 C1453.8 1835.0 1455.7 1849.7 1457.3 1864.6 C1459.0 1880.7 1460.3 1899.4 1461.7 1915.0 C1462.9 1928.5 1463.9 1940.6 1465.0 1952.8 C1466.0 1964.1 1466.8 1975.4 1468.2 1985.6 C1469.4 1994.6 1470.7 2003.6 1472.6 2010.8 C1474.1 2016.6 1475.9 2021.5 1478.1 2025.9 C1480.0 2029.7 1482.2 2032.7 1484.7 2036.0 C1487.5 2039.8 1491.2 2043.6 1494.5 2047.3" stroke="#000" stroke-width="3.6" fill="none" stroke-linejoin="round" stroke-linecap="round"/>
<path d="M359.7 2212.0 C365.5 2212.0 372.0 2211.8 377.2 2212.0 C381.5 2212.2 384.2 2213.1 388.9 2212.9 C395.9 2212.7 406.2 2210.4 415.2 2209.1 C424.7 2207.7 434.7 2206.1 444.4 2204.7 C454.1 2203.3 463.9 2202.2 473.6 2200.9 C483.3 2199.6 493.1 2198.1 502.8 2196.8 C512.5 2195.5 523.9 2193.8 532.0 2193.0 C537.7 2192.5 541.2 2192.2 546.6 2192.1 C553.5 2192.0 563.5 2193.7 569.9 2193.0 C574.5 2192.5 577.1 2191.7 581.6 2190.1 C588.2 2187.7 598.0 2181.2 605.0 2178.4 C610.3 2176.3 614.3 2175.5 619.6 2174.0 C625.8 2172.2 632.6 2170.4 640.0 2168.4 C648.9 2166.0 658.4 2162.9 669.2 2160.4 C682.3 2157.3 698.4 2154.4 713.0 2151.7 C727.6 2149.0 742.2 2146.7 756.8 2144.4 C771.4 2142.1 786.0 2140.2 800.6 2138.0 C815.2 2135.8 831.3 2133.0 844.4 2131.2 C855.1 2129.7 865.5 2128.0 873.6 2127.7 C879.3 2127.5 883.3 2127.9 888.2 2128.3 C893.1 2128.7 897.7 2130.0 902.8 2130.4 C908.4 2130.8 914.8 2131.1 920.3 2130.4 C925.4 2129.8 929.4 2127.9 934.9 2126.9 C941.7 2125.6 950.3 2125.7 958.2 2123.9 C966.8 2121.9 979.1 2118.5 984.5 2115.2 C987.5 2113.4 988.2 2111.4 990.4 2109.3 C993.2 2106.7 996.5 2103.9 1000.0 2100.9 C1004.0 2097.5 1008.7 2094.1 1013.1 2089.9 C1018.2 2085.1 1023.8 2079.2 1028.5 2073.4 C1033.3 2067.6 1037.4 2061.4 1041.6 2054.9 C1046.1 2048.0 1050.6 2040.1 1054.7 2033.0 C1058.6 2026.3 1062.4 2020.2 1065.7 2013.3 C1069.0 2006.3 1071.7 1998.3 1074.4 1991.4 C1076.8 1985.3 1078.9 1980.3 1081.0 1973.9 C1083.4 1966.6 1085.5 1958.2 1087.6 1949.8 C1089.9 1940.7 1092.2 1930.8 1094.2 1921.3 C1096.2 1911.8 1097.8 1900.7 1099.6 1892.8 C1100.9 1887.0 1102.1 1884.6 1103.5 1878.0 C1106.2 1865.2 1109.7 1839.8 1112.3 1820.9 C1114.8 1802.5 1116.8 1784.4 1118.8 1766.1 C1120.8 1747.9 1122.6 1728.6 1124.3 1711.4 C1125.8 1696.0 1127.4 1681.2 1128.7 1667.6 C1129.8 1655.9 1130.5 1644.5 1131.5 1634.7 C1132.3 1626.7 1133.3 1620.1 1134.2 1612.8 C1134.9 1623.8 1135.7 1632.8 1136.3 1645.7 C1137.1 1663.8 1137.4 1689.5 1138.1 1711.4 C1138.8 1733.3 1139.7 1756.2 1140.3 1777.1 C1140.9 1796.2 1141.4 1815.2 1141.8 1831.8 C1142.2 1845.7 1142.5 1856.8 1142.8 1870.0 C1143.1 1884.3 1143.0 1902.3 1143.4 1914.7 C1143.7 1923.6 1144.1 1930.0 1144.5 1937.7 L1151.1 1937.7 C1153.3 1930.0 1155.3 1922.8 1157.7 1914.7 C1160.4 1905.7 1163.8 1895.6 1166.4 1886.3 C1168.9 1877.4 1170.8 1868.8 1173.0 1860.0 C1174.6 1850.6 1175.7 1842.2 1177.9 1831.8 C1180.7 1818.8 1185.2 1802.6 1188.9 1788.0 C1192.5 1773.4 1196.3 1757.7 1199.8 1744.2 C1202.8 1732.5 1205.9 1721.7 1208.6 1711.4 C1211.0 1702.2 1212.8 1692.3 1215.2 1685.1 C1216.9 1679.9 1218.3 1675.0 1220.6 1672.0 C1222.2 1669.9 1224.3 1667.4 1226.1 1667.6 C1228.0 1667.8 1229.9 1671.2 1231.6 1674.2 C1234.2 1678.9 1236.2 1686.7 1238.2 1693.9 C1240.6 1702.5 1242.6 1712.5 1244.7 1722.3 C1247.0 1732.8 1248.9 1744.5 1251.3 1755.2 C1253.7 1765.6 1256.0 1776.5 1259.0 1785.8 C1261.6 1793.8 1264.4 1801.6 1267.7 1807.7 C1270.4 1812.5 1273.3 1816.6 1276.5 1819.8 C1279.2 1822.6 1282.1 1825.1 1285.2 1826.3 C1288.0 1827.4 1290.8 1827.8 1294.0 1827.4 C1298.0 1826.9 1302.8 1824.0 1307.1 1822.0 C1311.5 1820.0 1316.1 1817.5 1320.3 1815.4 C1324.1 1813.5 1327.6 1811.7 1331.2 1809.9" stroke="#0000ff" stroke-width="4.3" fill="none" stroke-linejoin="round" stroke-linecap="round"/>
<path d="M245.3 2012.7 C246.5 2001.0 247.3 1989.8 248.8 1977.7 C250.4 1964.6 252.2 1949.6 254.6 1936.8 C256.7 1925.4 258.6 1914.0 261.9 1904.7 C264.7 1896.9 267.4 1888.9 272.1 1884.2 C276.1 1880.2 281.8 1877.1 286.7 1876.9 C291.5 1876.7 296.8 1879.6 301.3 1882.8 C306.6 1886.5 311.1 1893.3 315.9 1898.8 C320.8 1904.5 324.9 1911.7 330.5 1916.4 C335.7 1920.8 342.0 1925.7 348.0 1926.6 C353.7 1927.4 359.5 1924.2 365.5 1922.2 C372.2 1920.0 378.8 1915.8 386.0 1913.4 C393.4 1910.9 401.0 1908.6 409.3 1907.6 C418.4 1906.5 428.6 1906.9 438.5 1907.6 C449.0 1908.3 460.9 1909.8 470.7 1912.0 C479.2 1913.9 485.9 1917.5 494.0 1919.3 C502.4 1921.2 512.9 1920.9 520.3 1922.8 C526.0 1924.2 531.1 1925.2 534.9 1928.4 C538.9 1931.8 540.9 1937.5 543.6 1943.0 C546.8 1949.7 548.9 1960.1 552.4 1966.0 C555.0 1970.4 557.9 1974.3 561.2 1976.2 C563.9 1977.8 567.2 1978.7 570.0 1978.0 C573.1 1977.2 575.6 1973.2 578.7 1970.4 C582.3 1967.1 586.4 1962.0 590.4 1959.5 C593.7 1957.5 597.0 1955.7 600.6 1955.7 C604.7 1955.7 610.2 1958.7 613.7 1960.5 C616.3 1961.8 617.5 1963.0 620.0 1964.6 C623.6 1966.8 628.8 1969.7 633.1 1972.5 C637.5 1975.4 642.0 1978.5 646.3 1981.7 C650.7 1985.0 655.0 1988.7 659.4 1992.2 C663.8 1995.8 668.3 1999.2 672.6 2003.0 C677.0 2006.9 681.4 2011.0 685.7 2015.2 C690.1 2019.5 694.4 2023.9 698.8 2028.3 C703.2 2032.8 707.6 2037.5 712.0 2042.1 C716.4 2046.8 720.8 2051.4 725.1 2056.2 C729.5 2061.0 733.8 2065.9 738.2 2070.8 C742.6 2075.7 747.0 2080.6 751.4 2085.5 C755.8 2090.3 760.1 2095.1 764.5 2099.9 C768.9 2104.6 773.4 2109.2 777.7 2114.0 C781.9 2118.7 785.9 2123.3 790.0 2128.2 C794.3 2133.4 798.7 2138.9 803.1 2144.3 C807.5 2149.7 811.9 2155.0 816.3 2160.4 C820.7 2165.8 825.0 2171.3 829.4 2176.8 C833.8 2182.4 838.2 2188.0 842.6 2193.6 C847.0 2199.2 851.3 2204.9 855.7 2210.5 C860.0 2216.0 864.5 2221.2 868.8 2226.8 C873.3 2232.6 878.4 2239.5 882.0 2245.0 C884.9 2249.3 887.0 2253.1 889.2 2257.0 C891.3 2260.7 893.0 2264.3 895.1 2268.0 C897.3 2271.9 899.7 2276.2 902.0 2280.0 C904.1 2283.5 905.8 2286.3 908.2 2290.0 C911.1 2294.6 914.7 2300.5 918.4 2305.3 C922.0 2310.0 926.1 2314.2 930.1 2318.4 C933.9 2322.5 938.0 2326.0 941.8 2330.1 C945.7 2334.3 949.7 2338.9 953.4 2343.2 C956.9 2347.2 960.2 2352.5 963.6 2354.9 C966.1 2356.6 968.5 2356.7 971.0 2357.8 C973.8 2359.1 976.7 2360.3 979.7 2362.2 C983.4 2364.5 987.4 2368.5 991.4 2371.0 C995.2 2373.3 999.2 2375.1 1003.1 2376.8 C1006.9 2378.5 1010.8 2379.8 1014.7 2381.2 C1018.6 2382.7 1021.9 2384.7 1026.4 2385.5 C1031.9 2386.5 1039.4 2386.1 1045.4 2385.5 C1051.0 2385.0 1056.5 2383.9 1061.3 2382.5 C1065.4 2381.3 1068.6 2378.9 1072.3 2378.1 C1075.9 2377.3 1080.1 2376.6 1083.2 2377.4 C1085.8 2378.0 1087.7 2379.3 1089.8 2381.4 C1093.0 2384.6 1096.0 2391.1 1098.5 2396.7 C1101.2 2402.7 1103.1 2409.2 1105.1 2416.4 C1107.5 2425.0 1109.6 2435.2 1111.7 2444.9 C1113.9 2454.9 1115.9 2465.9 1118.2 2475.5 C1120.3 2484.0 1121.9 2491.7 1124.8 2499.6 C1127.8 2507.8 1131.0 2517.6 1135.8 2523.7 C1139.8 2528.8 1145.2 2531.2 1150.0 2535.0 C1155.0 2538.9 1159.5 2543.2 1165.3 2547.0 C1172.0 2551.5 1180.2 2556.4 1188.3 2559.8 C1196.4 2563.2 1206.1 2566.0 1213.9 2567.4 C1220.3 2568.6 1225.7 2569.0 1231.8 2568.7 C1238.4 2568.3 1245.2 2567.3 1252.2 2564.9 C1260.4 2562.1 1270.4 2556.3 1277.7 2552.1 C1283.6 2548.7 1287.9 2545.8 1293.1 2541.9 C1299.0 2537.5 1305.1 2530.8 1311.0 2526.6 C1316.1 2522.9 1323.5 2520.3 1326.3 2517.6 C1327.7 2516.2 1328.0 2515.1 1328.8 2513.8 L1330.9 2526.6 L1334.0 2511.2 C1335.7 2509.5 1336.9 2507.8 1339.1 2506.1 C1342.3 2503.7 1347.3 2501.2 1351.8 2499.2 C1356.6 2497.1 1362.5 2496.6 1367.2 2494.1 C1371.9 2491.6 1375.8 2488.0 1379.9 2484.4 C1384.3 2480.6 1388.4 2475.9 1392.7 2471.6 C1397.0 2467.3 1401.2 2463.1 1405.5 2458.8 C1409.8 2454.6 1414.4 2449.3 1418.3 2446.1 C1421.0 2443.9 1423.2 2441.7 1425.9 2441.0 C1428.4 2440.3 1431.0 2441.3 1433.6 2441.5 C1435.3 2445.6 1436.8 2449.3 1438.7 2453.7 C1441.0 2458.8 1443.8 2464.8 1446.4 2470.3 C1449.8 2471.2 1453.6 2473.1 1456.6 2472.9 C1459.0 2472.7 1461.4 2470.0 1463.0 2470.3 C1464.1 2470.5 1464.7 2472.0 1465.5 2472.9 C1467.6 2469.9 1469.3 2466.7 1471.9 2464.0 C1474.7 2461.1 1478.5 2459.1 1482.1 2456.3 C1486.1 2453.2 1490.6 2449.5 1494.9 2446.1" stroke="#008000" stroke-width="4.3" fill="none" stroke-linejoin="round" stroke-linecap="round"/>
<path d="M245.3 2018.5 C247.4 2006.8 249.2 1995.1 251.7 1983.5 C254.2 1971.8 256.6 1958.8 260.4 1948.5 C263.6 1939.7 267.0 1930.4 272.1 1925.1 C276.2 1920.9 282.0 1917.7 286.7 1917.2 C290.7 1916.8 294.5 1918.2 298.4 1920.7 C304.1 1924.3 310.1 1933.2 315.9 1939.7 C321.8 1946.3 327.0 1955.4 333.4 1960.1 C338.8 1964.0 344.8 1966.4 351.0 1967.4 C357.4 1968.5 364.4 1966.9 371.4 1966.0 C378.9 1965.0 387.1 1962.3 394.7 1961.6 C401.7 1960.9 407.8 1961.1 415.2 1961.6 C424.1 1962.2 434.7 1963.6 444.4 1965.4 C454.2 1967.2 465.1 1970.1 473.6 1972.4 C480.2 1974.2 484.2 1976.4 491.1 1977.7 C500.7 1979.5 519.5 1978.1 526.1 1980.6 C529.1 1981.7 530.3 1982.7 532.0 1985.0 C534.6 1988.5 535.9 1995.4 537.8 2001.0 C539.8 2007.0 542.1 2013.8 543.6 2020.0 C545.0 2025.7 545.4 2031.2 546.6 2036.8 C547.8 2042.6 548.5 2050.9 551.0 2054.3 C552.5 2056.4 554.9 2058.1 556.8 2057.8 C559.2 2057.5 561.6 2053.5 564.1 2049.9 C567.9 2044.4 571.5 2033.3 575.8 2026.6 C579.4 2021.0 583.2 2015.0 587.4 2012.0 C590.6 2009.7 594.3 2008.2 597.7 2008.2 C601.1 2008.2 604.4 2010.6 607.9 2012.0 C611.8 2013.6 615.9 2015.5 620.0 2017.2 C624.3 2019.0 628.8 2020.4 633.1 2022.4 C637.6 2024.5 642.0 2027.0 646.3 2029.6 C650.7 2032.3 655.0 2035.3 659.4 2038.2 C663.8 2041.1 668.3 2043.8 672.6 2046.9 C677.0 2050.1 681.3 2053.6 685.7 2057.0 C690.1 2060.4 694.4 2064.1 698.8 2067.5 C703.2 2070.9 707.6 2074.3 712.0 2077.6 C716.3 2080.8 720.7 2083.8 725.1 2086.9 C729.5 2090.0 733.8 2092.9 738.2 2096.0 C742.6 2099.1 747.0 2102.2 751.4 2105.4 C755.8 2108.6 760.1 2112.2 764.5 2115.4 C768.9 2118.6 773.4 2121.6 777.7 2124.6 C781.9 2127.4 785.9 2129.8 790.0 2132.8 C794.4 2135.9 798.7 2139.6 803.1 2143.0 C807.5 2146.5 811.9 2150.1 816.3 2153.5 C820.7 2156.9 825.0 2160.3 829.4 2163.6 C833.8 2166.8 838.2 2169.8 842.6 2173.0 C847.0 2176.2 851.3 2179.3 855.7 2182.6 C860.1 2185.9 864.4 2189.3 868.8 2192.6 C873.2 2195.9 877.7 2199.0 882.0 2202.4 C886.4 2205.9 890.7 2209.7 895.1 2213.2 C899.4 2216.6 903.8 2219.8 908.2 2223.1 C912.6 2226.4 917.0 2229.8 921.4 2233.2 C925.8 2236.6 930.1 2240.1 934.5 2243.5 C938.9 2246.9 943.3 2250.1 947.7 2253.4 C952.1 2256.7 956.8 2260.2 960.8 2263.2 C964.2 2265.8 966.2 2267.7 970.0 2270.4 C975.6 2274.5 984.9 2280.5 991.4 2284.8 C996.7 2288.3 1000.7 2290.7 1006.0 2294.3 C1012.6 2298.7 1020.5 2304.8 1027.9 2309.6 C1035.1 2314.3 1043.1 2318.6 1049.8 2322.8 C1055.6 2326.4 1060.0 2329.5 1065.7 2333.2 C1072.4 2337.6 1080.3 2342.8 1087.6 2347.4 C1094.9 2351.9 1102.5 2357.2 1109.5 2360.6 C1115.5 2363.5 1121.3 2366.5 1127.0 2367.1 C1132.2 2367.7 1137.2 2366.6 1142.3 2365.0 C1148.1 2363.2 1154.2 2359.4 1159.8 2356.2 C1165.2 2353.1 1169.6 2349.9 1175.2 2346.3 C1181.9 2342.0 1189.7 2336.5 1197.1 2332.1 C1204.3 2327.8 1211.6 2323.8 1219.0 2320.1 C1226.2 2316.5 1233.6 2313.5 1240.9 2310.2 C1248.2 2306.9 1256.0 2303.9 1262.8 2300.4 C1269.1 2297.2 1274.4 2293.9 1280.3 2290.2 C1286.6 2286.3 1293.1 2282.5 1299.6 2277.4 C1307.0 2271.5 1314.6 2263.7 1322.0 2256.5 C1329.6 2249.2 1337.1 2241.4 1344.5 2234.0 C1351.6 2226.9 1358.8 2220.7 1365.4 2213.1 C1372.3 2205.2 1378.7 2196.1 1384.7 2187.4 C1390.5 2179.0 1395.7 2170.0 1400.7 2161.8 C1405.2 2154.3 1409.3 2147.5 1413.3 2140.2 C1417.3 2132.8 1421.0 2125.4 1424.5 2117.7 C1428.0 2109.9 1431.0 2101.6 1434.2 2093.6 C1437.4 2085.6 1440.8 2077.4 1443.8 2069.5 C1446.7 2061.9 1449.4 2054.5 1451.8 2047.0 C1454.2 2039.5 1455.9 2032.0 1458.3 2024.5 C1460.7 2017.0 1463.9 2009.5 1466.3 2002.0 C1468.7 1994.6 1470.5 1987.7 1472.7 1979.6 C1475.3 1970.2 1477.9 1959.0 1480.7 1949.1 C1483.3 1939.7 1486.3 1930.5 1488.8 1921.8 C1491.1 1913.9 1493.1 1906.8 1495.2 1899.3" stroke="#ff0000" stroke-width="4.3" fill="none" stroke-linejoin="round" stroke-linecap="round"/>
<text x="794.09" y="2067.80" fill="#0000ff" letter-spacing="-0.618"><tspan font-family="'Liberation Sans', Arial, sans-serif" font-size="48.80">0.02NbF</tspan></text><text x="977.76" y="2085.80" fill="#0000ff" letter-spacing="0.000"><tspan font-family="'Liberation Sans', Arial, sans-serif" font-size="28.50">5</tspan></text>
<text x="996.00" y="2231.90" fill="#000" letter-spacing="-0.464"><tspan font-family="'Liberation Sans', Arial, sans-serif" font-size="48.80">NaBH</tspan></text><text x="1124.55" y="2251.00" fill="#000" letter-spacing="0.000"><tspan font-family="'Liberation Sans', Arial, sans-serif" font-size="28.50">4</tspan></text>
<text x="1234.99" y="2372.30" fill="#ff0000" letter-spacing="-0.618"><tspan font-family="'Liberation Sans', Arial, sans-serif" font-size="48.80">0.15NbF</tspan></text><text x="1418.86" y="2391.00" fill="#ff0000" letter-spacing="0.000"><tspan font-family="'Liberation Sans', Arial, sans-serif" font-size="28.50">5</tspan></text>
<text x="1143.09" y="2475.80" fill="#008000" letter-spacing="-0.434"><tspan font-family="'Liberation Sans', Arial, sans-serif" font-size="48.80">0.1NbF</tspan></text><text x="1300.86" y="2494.00" fill="#008000" letter-spacing="0.000"><tspan font-family="'Liberation Sans', Arial, sans-serif" font-size="28.50">5</tspan></text>
<text x="345.90" y="2505.30" fill="#000" letter-spacing="-0.206"><tspan font-family="'Liberation Sans', Arial, sans-serif" font-size="48.80">Endo</tspan></text>
<path d="M294.1 2543.1 V2445.8" stroke="#000" stroke-width="5.5" stroke-linecap="round"/><path d="M294.1 2419.3 L286.6 2446.8 L301.6 2446.8 Z" fill="#000" stroke="#000" stroke-width="3" stroke-linejoin="round"/>
<text transform="translate(119.00 2224.40) rotate(-90)" x="-3.98" y="0" letter-spacing="-0.376" font-family="'Liberation Sans', Arial, sans-serif" font-size="48.50">DSC (uV/mg)</text>
<text x="683.40" y="2700.00" fill="#000" letter-spacing="-0.337"><tspan font-family="'Liberation Sans', Arial, sans-serif" font-size="48.80">Temperature (°C)</tspan></text>
<text x="658.70" y="2906.60" fill="#000" letter-spacing="-0.200"><tspan font-family="'Liberation Serif', 'Times New Roman', serif" font-size="86.50">(</tspan><tspan font-family="'Liberation Serif', 'Times New Roman', serif" font-size="86.50" font-weight="bold">e</tspan><tspan font-family="'Liberation Serif', 'Times New Roman', serif" font-size="86.50">)</tspan></text><text transform="translate(769.70 2906.60) scale(1.0459 1)" x="0" y="0" fill="#000"><tspan font-family="'Liberation Serif', 'Times New Roman', serif" font-size="72.20">Group</tspan></text><text x="977.00" y="2906.60" fill="#000" letter-spacing="0.000"><tspan font-family="'Liberation Serif', 'Times New Roman', serif" font-size="72.20">5</tspan></text>
</svg>
</body></html>
